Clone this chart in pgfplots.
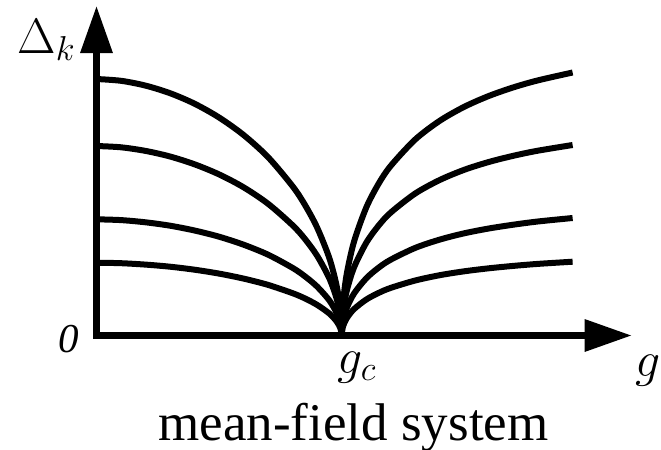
\documentclass[border=0pt]{standalone}
\usepackage{fontspec}
\setmainfont{Liberation Serif}
\usepackage{pgfplots}
\pgfplotsset{compat=1.18}
\usetikzlibrary{arrows.meta}

% Gap branches below g_c (left) and above g_c (right), one column per k
\pgfplotstableread{
g      d1     d2     d3     d4
0.000  2.565  1.895  1.162  0.728
0.100  2.547  1.882  1.154  0.723
0.200  2.499  1.846  1.132  0.709
0.300  2.423  1.790  1.098  0.688
0.400  2.318  1.712  1.050  0.658
0.500  2.180  1.611  0.988  0.619
0.600  2.005  1.482  0.908  0.569
0.700  1.783  1.317  0.808  0.506
0.800  1.492  1.102  0.676  0.423
0.850  1.307  0.966  0.592  0.371
0.900  1.079  0.797  0.489  0.306
0.950  0.772  0.570  0.350  0.219
0.980  0.491  0.363  0.223  0.139
0.995  0.246  0.182  0.112  0.070
1.000  0.000  0.000  0.000  0.000
}\lowside
\pgfplotstableread{
g      d1     d2     d3     d4
1.000  0.000  0.000  0.000  0.000
1.005  0.306  0.222  0.137  0.086
1.020  0.605  0.438  0.270  0.170
1.050  0.935  0.678  0.418  0.263
1.100  1.278  0.926  0.571  0.359
1.150  1.515  1.097  0.677  0.425
1.200  1.696  1.229  0.758  0.476
1.300  1.960  1.420  0.876  0.550
1.400  2.147  1.555  0.959  0.603
1.500  2.287  1.657  1.022  0.642
1.600  2.395  1.735  1.070  0.672
1.700  2.481  1.797  1.108  0.696
1.800  2.551  1.848  1.140  0.716
1.942  2.630  1.905  1.175  0.738
}\highside

\begin{document}
\begin{tikzpicture}
\path[use as bounding box] (0,0) rectangle (330.5pt,-225pt);
\begin{axis}[
  at={(48.25pt,-167.75pt)}, anchor=south west,
  scale only axis, width=267.6pt, height=164.75pt,
  xmin=0, xmax=2.183, ymin=0, ymax=3.295,
  axis lines=left,
  axis line style={line width=3.2pt, line cap=rect,
    -{Triangle[length=23.5pt,width=15.5pt]}},
  xtick=\empty, ytick=\empty,
  clip=false,
  gapcurve/.style={black, solid, line width=3pt, smooth, line join=round, mark=none},
]
\foreach \c in {d1,d2,d3,d4}{
  \addplot[gapcurve] table[x=g, y=\c] {\lowside};
  \addplot[gapcurve] table[x=g, y=\c] {\highside};
}
\end{axis}
\node[anchor=base west, inner sep=0] at (8.5pt,-26.5pt) {\fontsize{23}{23}\selectfont$\Delta_k$};
\node[anchor=base west, inner sep=0] at (29pt,-176.25pt) {\fontsize{20.5}{20.5}\selectfont\textit{0}};
\node[anchor=base, inner sep=0] at (178.5pt,-186.5pt) {\fontsize{26}{26}\selectfont$g_c$};
\node[anchor=base west, inner sep=0] at (317.5pt,-188pt) {\fontsize{26}{26}\selectfont$g$};
\node[anchor=base, inner sep=0] at (176.75pt,-220pt) {\fontsize{26.5}{26.5}\selectfont mean-field system};
\end{tikzpicture}
\end{document}
